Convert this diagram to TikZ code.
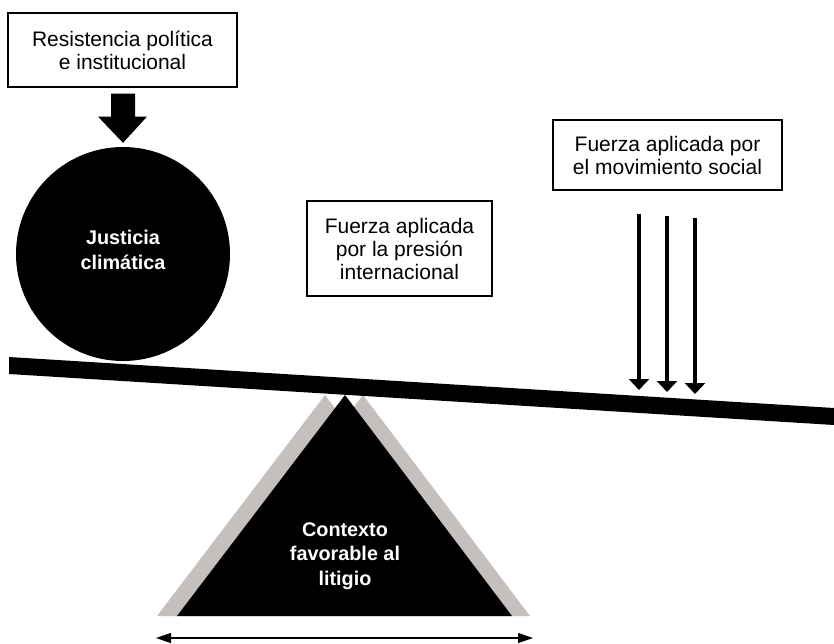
\documentclass[tikz,border=0pt]{standalone}
\usepackage{fontspec}
\setmainfont{Liberation Sans}
\usetikzlibrary{arrows.meta,calc}
\definecolor{shadowgray}{RGB}{197,192,189}
\tikzset{
  labelbox/.style={draw=black, line width=1.2pt, fill=white, align=center, inner sep=0pt,
    font=\fontsize{21}{23}\selectfont},
  whitebold/.style={text=white, align=center, inner sep=0pt,
    font=\fontsize{19.8}{24.5}\selectfont\bfseries},
  pusharrow/.style={line width=4pt, -{Triangle[width=20pt,length=11pt]}},
  spanarrow/.style={line width=1.3pt, {Triangle[width=10pt,length=15pt]}-{Triangle[width=10pt,length=15pt]}},
}
\begin{document}
\begin{tikzpicture}[x=1pt,y=-1pt]
\useasboundingbox (0,0) rectangle (834,643);

% fulcrum: two grey offset triangles and the black one
\fill[shadowgray] (157,616) -- (325,395) -- (492,616) -- cycle;
\fill[shadowgray] (195,616) -- (363,395) -- (530,616) -- cycle;
\fill[black] (177,616) -- (345,395) -- (512,616) -- cycle;
\node[whitebold] (ctx) at (345,556) {Contexto\\favorable al\\litigio};

% circle
\node[circle, fill=black, minimum size=214pt, inner sep=0pt] (jc) at (123,254) {};
\node[whitebold] (jct) at (123,250) {Justicia\\climática};

% beam
\fill[black] (9,357) -- (834,408) -- (834,425) -- (9,374) -- cycle;

% top box and block arrow
\node[labelbox, minimum width=229pt, minimum height=74pt] (res) at (122.5,50)
  {Resistencia política\\e institucional};
\fill[black] ($(res.south)+(-11.5,6)$) -- ($(res.south)+(12.5,6)$) -- ($(res.south)+(12.5,29)$)
  -- ($(res.south)+(24.5,29)$) -- ($(jc.north)+(0,-4)$) -- ($(res.south)+(-24.5,29)$)
  -- ($(res.south)+(-11.5,29)$) -- cycle;

% middle box
\node[labelbox, minimum width=185pt, minimum height=95pt] (intl) at (399.5,248.5)
  {Fuerza aplicada\\por la presión\\internacional};

% right box and arrows
\node[labelbox, minimum width=229pt, minimum height=70pt] (soc) at (667.5,155)
  {Fuerza aplicada por\\el movimiento social};
\coordinate (a1s) at (639,214); \coordinate (a1e) at (639,390);
\coordinate (a2s) at (667,216); \coordinate (a2e) at (667,392);
\coordinate (a3s) at (695,218); \coordinate (a3e) at (695,394);
\draw[pusharrow] (a1s) -- (a1e);
\draw[pusharrow] (a2s) -- (a2e);
\draw[pusharrow] (a3s) -- (a3e);

% base span arrow
\coordinate (bl) at (156,638);
\coordinate (br) at (533,638);
\draw[spanarrow] (bl) -- (br);
\end{tikzpicture}
\end{document}
